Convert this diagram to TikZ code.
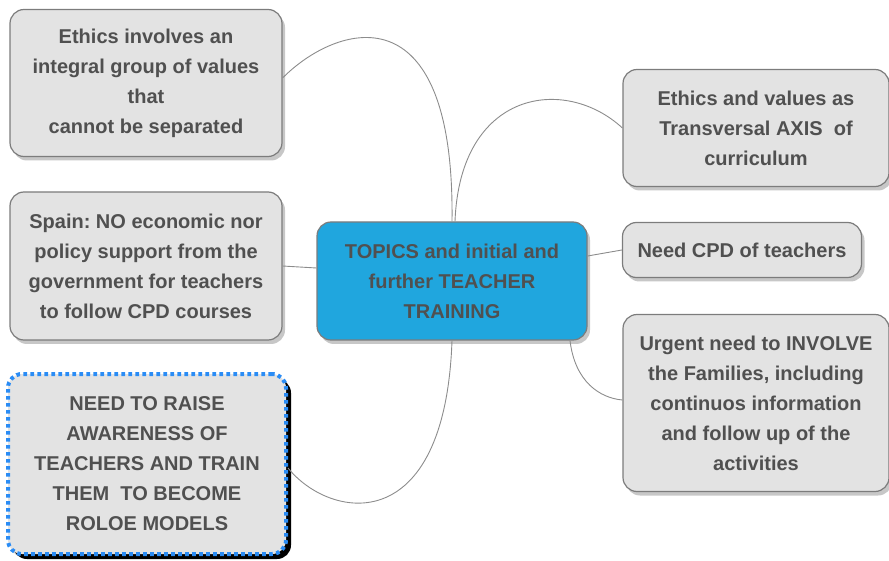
\documentclass[tikz,border=0pt]{standalone}
\usepackage{fontspec}
\setmainfont{Liberation Sans}
\usepackage{xcolor}
\definecolor{colorTopic}{HTML}{20A6DE}
\definecolor{colorBox}{HTML}{E3E3E3}
\definecolor{colorText}{HTML}{505050}
\definecolor{colorBorder}{HTML}{7C7C7C}
\definecolor{colorDots}{HTML}{2A8CF5}
\colorlet{colorLink}{black!45}
\usetikzlibrary{positioning, shadows}
\tikzset{
  idea/.style={draw=colorBorder, fill=colorBox, line width=1.2pt, rounded corners=14pt,
    align=center, inner sep=0pt, text=colorText,
    font=\bfseries\fontsize{20}{30}\selectfont,
    drop shadow={shadow xshift=3pt, shadow yshift=-4pt, fill=black, opacity=0.22}},
  topic/.style={idea, fill=colorTopic},
  raise/.style={idea, draw=colorDots, line width=4pt, dash pattern=on 3.6pt off 3.4pt,
    drop shadow={shadow xshift=5pt, shadow yshift=-5pt, fill=black, opacity=1}},
  link/.style={draw=colorLink, line width=0.9pt}
}
\frenchspacing

\begin{document}
\begin{tikzpicture}[x=1pt, y=-1pt]
\useasboundingbox (0,0) rectangle (889,561);
\node[topic, minimum width=270pt, minimum height=118pt] (topics) at (452,281) {TOPICS and initial and\\further TEACHER\\TRAINING};
\node[idea, minimum width=272pt, minimum height=147pt] (integral) at (146,83) {Ethics involves an\\integral group of values\\that\\cannot be separated};
\node[idea, minimum width=266pt, minimum height=117pt] (axis) at (756,128) {Ethics and values as\\Transversal AXIS\ \ of\\curriculum};
\node[idea, minimum width=272pt, minimum height=148pt] (spain) at (146,266) {Spain: NO economic nor\\policy support from the\\government for teachers\\to follow CPD courses};
\node[idea, minimum width=239pt, minimum height=55pt] (cpd) at (742,250) {Need CPD of teachers};
\node[idea, minimum width=266pt, minimum height=177pt] (families) at (756,403) {Urgent need to INVOLVE\\the Families, including\\continuos information\\and follow up of the\\activities};
\node[raise, minimum width=278pt, minimum height=180pt] (models) at (147,464) {NEED TO RAISE\\AWARENESS OF\\TEACHERS AND TRAIN\\THEM\ \ TO BECOME\\ROLOE MODELS};
\draw[link] (integral.east |- 0,78) .. controls (335,25) and (455,-15) .. (topics.north);
\draw[link] (topics.north) ++(3,0) .. controls (460,90) and (565,75) .. (axis.west);
\draw[link] (spain.east) -- (topics.west |- 0,268);
\draw[link] (topics.east |- 0,256) -- (cpd.west);
\draw[link] (topics.south) ++(118,0) .. controls (575,382) and (600,398) .. (families.west |- 0,400);
\draw[link] (models.east |- 0,468) .. controls (330,520) and (445,540) .. (topics.south);
\end{tikzpicture}
\end{document}
